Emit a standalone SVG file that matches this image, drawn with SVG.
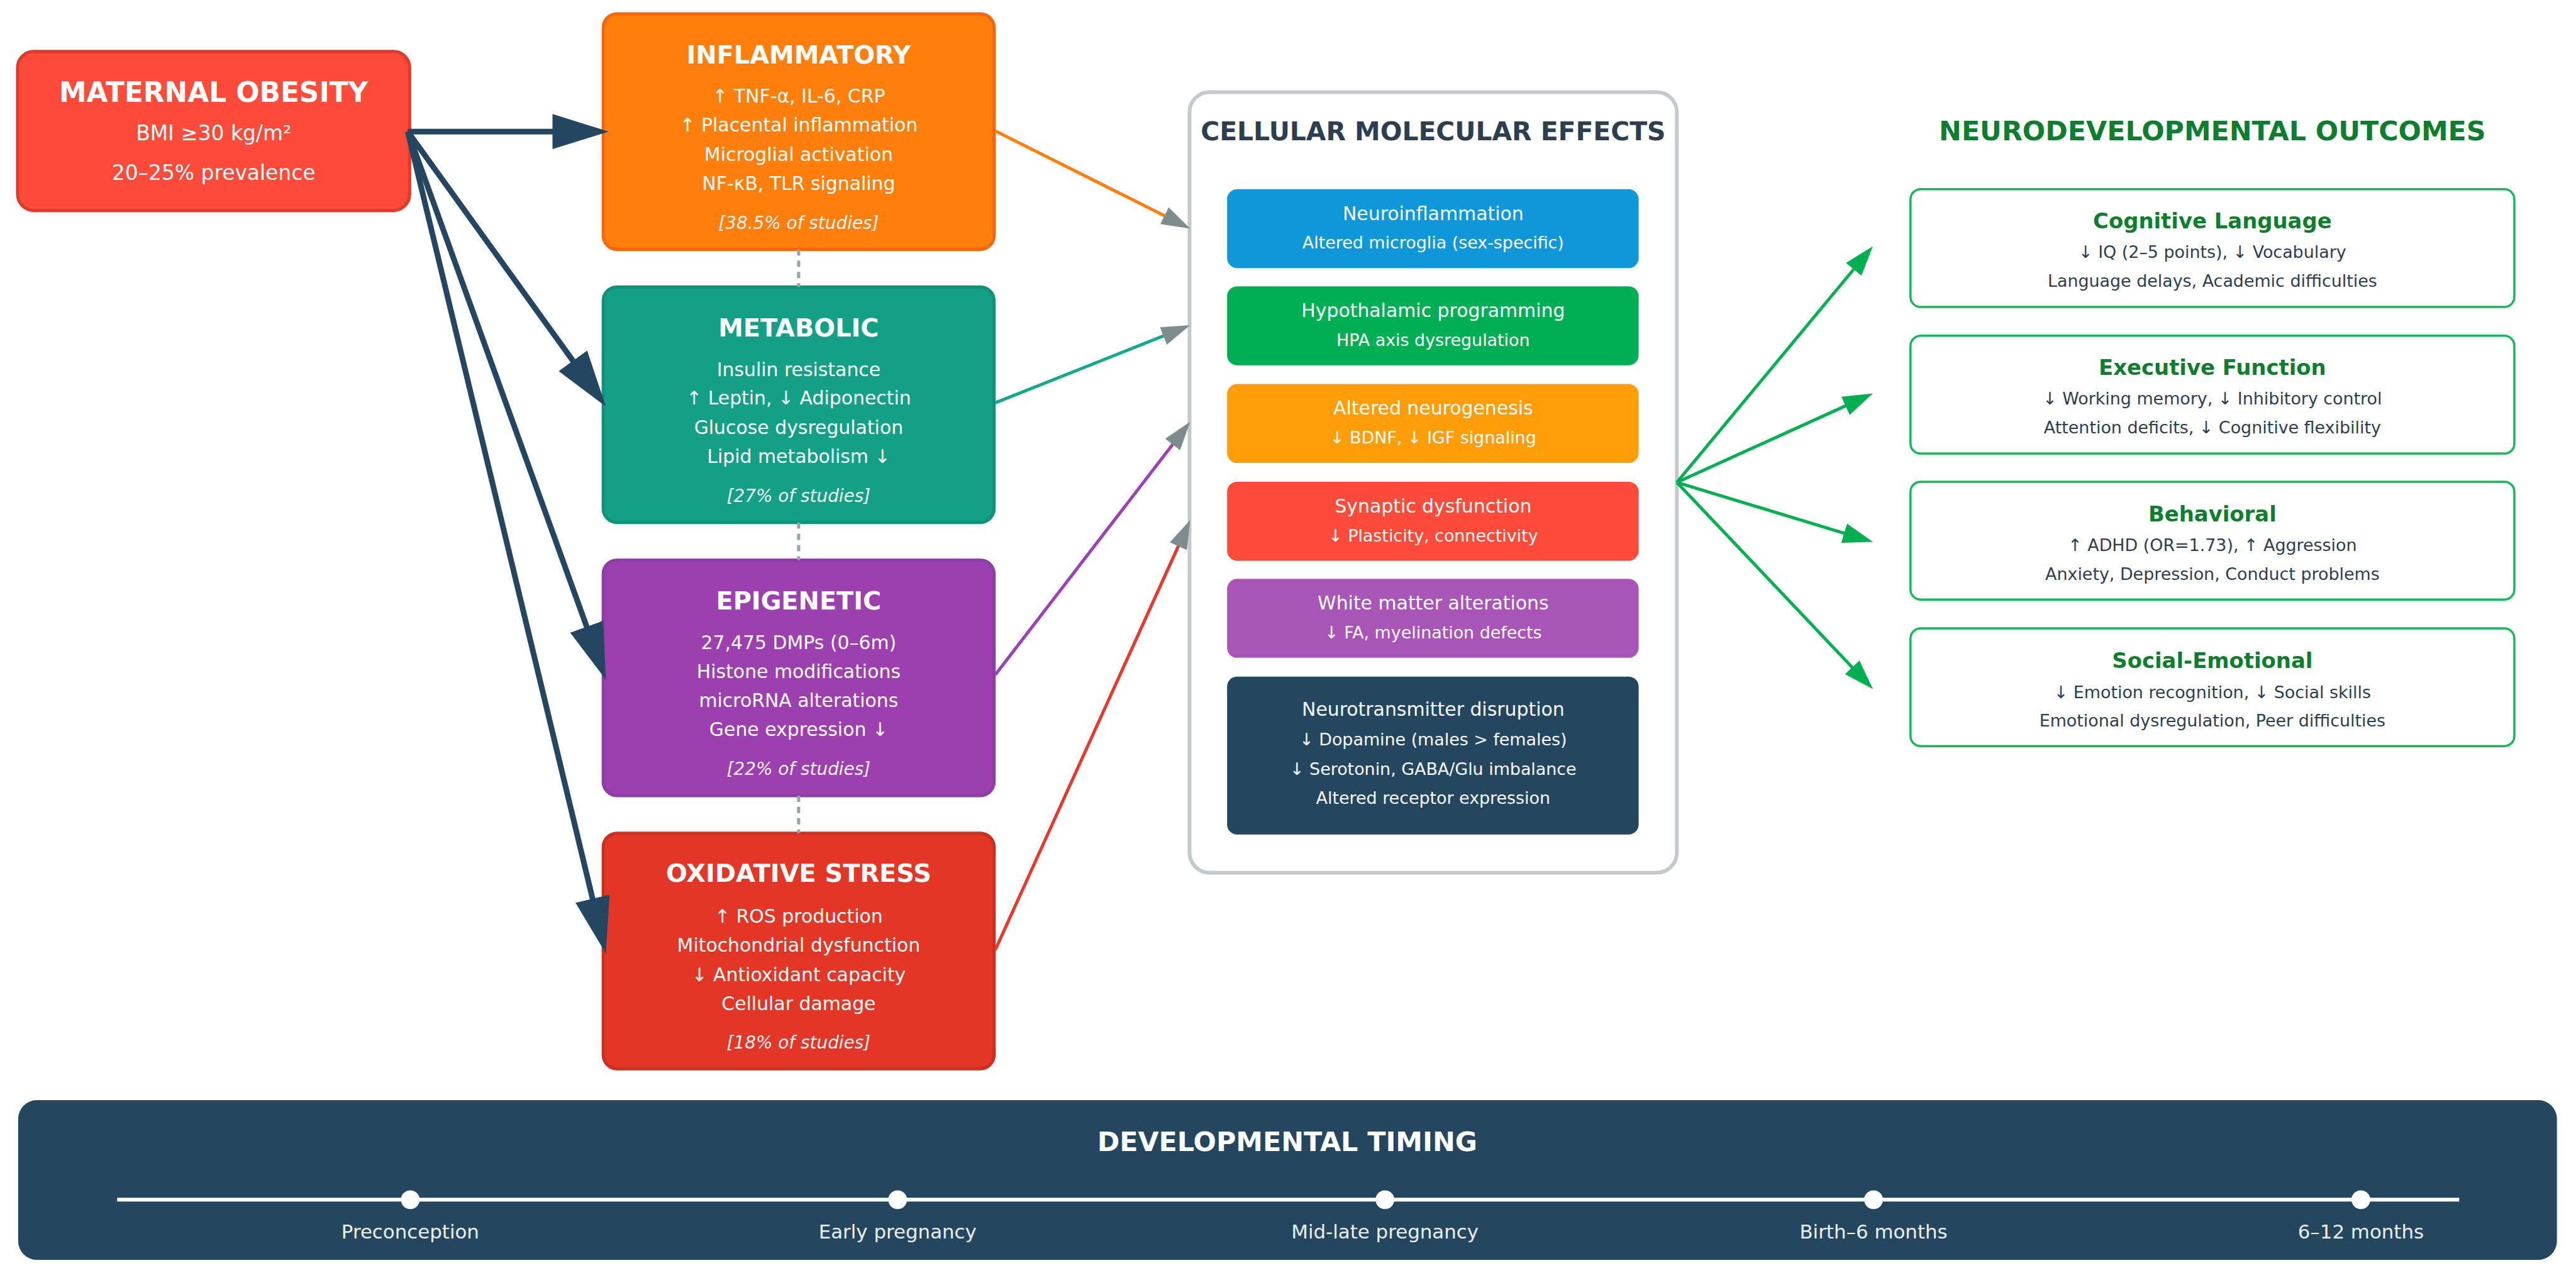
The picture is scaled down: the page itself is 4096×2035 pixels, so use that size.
<svg xmlns="http://www.w3.org/2000/svg" width="4096" height="2035" viewBox="0 0 4096 2035">
<defs>
<style>
text{font-family:"DejaVu Sans",Verdana,"Liberation Sans",sans-serif;text-anchor:middle}
.w{fill:#ffffff}
.tb{font-weight:bold;font-size:40px;fill:#ffffff}
.bd{font-size:30px;fill:#ffffff}
.it{font-size:28px;font-style:italic;fill:#f4f4f4}
.ct{font-size:30px;fill:#ffffff}
.cs{font-size:27px;fill:#ffffff}
.ot{font-weight:bold;font-size:34px;fill:#0e7d2e}
.ob{font-size:27px;fill:#2c3e50}
.ob2{fill:#ffffff;stroke:#14b856;stroke-width:3.5}
.tl{font-size:31px;fill:#ecf0f1}
.dot{fill:#ffffff}
.dash{stroke:#95a5a6;stroke-width:5;stroke-dasharray:10 8;fill:none}
.navy{stroke:#254660;stroke-width:9;fill:none}
.gc{stroke-width:5;fill:none}
.gr{stroke:#00b050;stroke-width:5;fill:none}
</style>
<marker id="mNavy" markerUnits="userSpaceOnUse" markerWidth="90" markerHeight="56" refX="20" refY="28" orient="auto" viewBox="0 0 90 56"><path d="M0,0 L90,28 L0,56 z" fill="#254660"/></marker>
<marker id="mGrey" markerUnits="userSpaceOnUse" markerWidth="46" markerHeight="30" refX="8" refY="15" orient="auto" viewBox="0 0 46 30"><path d="M0,0 L46,15 L0,30 z" fill="#7f8c8d"/></marker>
<marker id="mGreen" markerUnits="userSpaceOnUse" markerWidth="48" markerHeight="32" refX="10" refY="16" orient="auto" viewBox="0 0 48 32"><path d="M0,0 L48,16 L0,32 z" fill="#00b050"/></marker>
</defs>
<rect width="4096" height="2035" fill="#ffffff"/>
<g transform="scale(0.996)">

<g id="maternal">
<rect x="28" y="82" width="626" height="254" rx="26" fill="#ff4b3a" stroke="#e03a2b" stroke-width="5"/>
<text x="341" y="163" class="w" font-weight="bold" font-size="44">MATERNAL OBESITY</text>
<text x="341" y="224" class="w" font-size="33">BMI ≥30 kg/m²</text>
<text x="341" y="287" class="w" font-size="33">20–25% prevalence</text>
</g>

<g id="inflammatory">
<rect x="963" y="22" width="624" height="376" rx="22" fill="#ff7f0e" stroke="#f8650a" stroke-width="5"/>
<text x="1275" y="101" class="tb">INFLAMMATORY</text>
<text x="1275" y="164" class="bd">↑ TNF-α, IL-6, CRP</text>
<text x="1275" y="210" class="bd">↑ Placental inflammation</text>
<text x="1275" y="257" class="bd">Microglial activation</text>
<text x="1275" y="303" class="bd">NF-κB, TLR signaling</text>
<text x="1275" y="365" class="it">[38.5% of studies]</text>
</g>

<g id="metabolic">
<rect x="963" y="458" width="624" height="376" rx="22" fill="#13a085" stroke="#109279" stroke-width="5"/>
<text x="1275" y="537" class="tb">METABOLIC</text>
<text x="1275" y="600" class="bd">Insulin resistance</text>
<text x="1275" y="646" class="bd">↑ Leptin, ↓ Adiponectin</text>
<text x="1275" y="693" class="bd">Glucose dysregulation</text>
<text x="1275" y="739" class="bd">Lipid metabolism ↓</text>
<text x="1275" y="801" class="it">[27% of studies]</text>
</g>

<g id="epigenetic">
<rect x="963" y="894" width="624" height="376" rx="22" fill="#9b40ae" stroke="#8e3ca8" stroke-width="5"/>
<text x="1275" y="973" class="tb">EPIGENETIC</text>
<text x="1275" y="1036" class="bd">27,475 DMPs (0–6m)</text>
<text x="1275" y="1082" class="bd">Histone modifications</text>
<text x="1275" y="1129" class="bd">microRNA alterations</text>
<text x="1275" y="1175" class="bd">Gene expression ↓</text>
<text x="1275" y="1237" class="it">[22% of studies]</text>
</g>

<g id="oxidative">
<rect x="963" y="1330" width="624" height="376" rx="22" fill="#e23626" stroke="#cc2e1f" stroke-width="5"/>
<text x="1275" y="1408" class="tb">OXIDATIVE STRESS</text>
<text x="1275" y="1473" class="bd">↑ ROS production</text>
<text x="1275" y="1519" class="bd">Mitochondrial dysfunction</text>
<text x="1275" y="1566" class="bd">↓ Antioxidant capacity</text>
<text x="1275" y="1612" class="bd">Cellular damage</text>
<text x="1275" y="1674" class="it">[18% of studies]</text>
</g>

<g id="cellular">
<rect x="1899" y="147" width="778" height="1246" rx="32" fill="#ffffff" stroke="#c3c9cd" stroke-width="6"/>
<text x="2288" y="224" font-weight="bold" font-size="41" fill="#2c3e50">CELLULAR MOLECULAR EFFECTS</text>
</g>
<g id="neuroinflammation">
<rect x="1959" y="302" width="657" height="126" rx="16" fill="#0e98da"/>
<text x="2288" y="351" class="ct">Neuroinflammation</text>
<text x="2288" y="397" class="cs">Altered microglia (sex-specific)</text>
</g>
<g id="hypothalamic">
<rect x="1959" y="457" width="657" height="126" rx="16" fill="#00ae56"/>
<text x="2288" y="506" class="ct">Hypothalamic programming</text>
<text x="2288" y="552" class="cs">HPA axis dysregulation</text>
</g>
<g id="neurogenesis">
<rect x="1959" y="613" width="657" height="126" rx="16" fill="#ff9e0a"/>
<text x="2288" y="662" class="ct">Altered neurogenesis</text>
<text x="2288" y="708" class="cs">↓ BDNF, ↓ IGF signaling</text>
</g>
<g id="synaptic">
<rect x="1959" y="769" width="657" height="126" rx="16" fill="#ff4b3a"/>
<text x="2288" y="818" class="ct">Synaptic dysfunction</text>
<text x="2288" y="864" class="cs">↓ Plasticity, connectivity</text>
</g>
<g id="whitematter">
<rect x="1959" y="924" width="657" height="126" rx="16" fill="#a955b8"/>
<text x="2288" y="973" class="ct">White matter alterations</text>
<text x="2288" y="1019" class="cs">↓ FA, myelination defects</text>
</g>
<g id="neurotransmitter">
<rect x="1959" y="1080" width="657" height="252" rx="16" fill="#24465e"/>
<text x="2288" y="1143" class="ct">Neurotransmitter disruption</text>
<text x="2288" y="1190" class="cs">↓ Dopamine (males &gt; females)</text>
<text x="2288" y="1237" class="cs">↓ Serotonin, GABA/Glu imbalance</text>
<text x="2288" y="1283" class="cs">Altered receptor expression</text>
</g>

<g id="outcomes-title">
<text x="3532" y="224" font-weight="bold" font-size="43" fill="#0e7d2e">NEURODEVELOPMENTAL OUTCOMES</text>
</g>
<g id="cognitive">
<rect x="3050" y="302" width="964" height="188" rx="16" class="ob2"/>
<text x="3532" y="364" class="ot">Cognitive Language</text>
<text x="3532" y="412" class="ob">↓ IQ (2–5 points), ↓ Vocabulary</text>
<text x="3532" y="458" class="ob">Language delays, Academic difficulties</text>
</g>
<g id="executive">
<rect x="3050" y="536" width="964" height="188" rx="16" class="ob2"/>
<text x="3532" y="598" class="ot">Executive Function</text>
<text x="3532" y="646" class="ob">↓ Working memory, ↓ Inhibitory control</text>
<text x="3532" y="692" class="ob">Attention deficits, ↓ Cognitive flexibility</text>
</g>
<g id="behavioral">
<rect x="3050" y="769" width="964" height="188" rx="16" class="ob2"/>
<text x="3532" y="832" class="ot">Behavioral</text>
<text x="3532" y="880" class="ob">↑ ADHD (OR=1.73), ↑ Aggression</text>
<text x="3532" y="926" class="ob">Anxiety, Depression, Conduct problems</text>
</g>
<g id="social">
<rect x="3050" y="1003" width="964" height="188" rx="16" class="ob2"/>
<text x="3532" y="1066" class="ot">Social-Emotional</text>
<text x="3532" y="1114" class="ob">↓ Emotion recognition, ↓ Social skills</text>
<text x="3532" y="1160" class="ob">Emotional dysregulation, Peer difficulties</text>
</g>

<g id="timing">
<rect x="29" y="1756" width="4053" height="255" rx="30" fill="#24465e"/>
<text x="2055" y="1837" class="w" font-weight="bold" font-size="43">DEVELOPMENTAL TIMING</text>
<line x1="187" y1="1915" x2="3926" y2="1915" stroke="#ffffff" stroke-width="6"/>
<circle cx="655" cy="1915" r="15" class="dot"/>
<circle cx="1433" cy="1915" r="15" class="dot"/>
<circle cx="2211" cy="1915" r="15" class="dot"/>
<circle cx="2991" cy="1915" r="15" class="dot"/>
<circle cx="3769" cy="1915" r="15" class="dot"/>
<text x="655" y="1977" class="tl">Preconception</text>
<text x="1433" y="1977" class="tl">Early pregnancy</text>
<text x="2211" y="1977" class="tl">Mid-late pregnancy</text>
<text x="2991" y="1977" class="tl">Birth–6 months</text>
<text x="3769" y="1977" class="tl">6–12 months</text>
</g>

<g id="connectors">
<line x1="1275" y1="398" x2="1275" y2="458" class="dash"/>
<line x1="1275" y1="834" x2="1275" y2="894" class="dash"/>
<line x1="1275" y1="1270" x2="1275" y2="1330" class="dash"/>
<line x1="651" y1="210" x2="902" y2="210" class="navy" marker-end="url(#mNavy)"/>
<line x1="651" y1="210" x2="926.3" y2="592.1" class="navy" marker-end="url(#mNavy)"/>
<line x1="651" y1="210" x2="943.4" y2="1019.1" class="navy" marker-end="url(#mNavy)"/>
<line x1="651" y1="210" x2="950.7" y2="1453.9" class="navy" marker-end="url(#mNavy)"/>
<line x1="1589" y1="209" x2="1866.1" y2="347.9" class="gc" stroke="#ff7f0e" marker-end="url(#mGrey)"/>
<line x1="1589" y1="643" x2="1864.7" y2="533.2" class="gc" stroke="#13a98c" marker-end="url(#mGrey)"/>
<line x1="1589" y1="1077" x2="1876.9" y2="703.2" class="gc" stroke="#9b40b8" marker-end="url(#mGrey)"/>
<line x1="1589" y1="1516" x2="1884.4" y2="864.6" class="gc" stroke="#e8382a" marker-end="url(#mGrey)"/>
<line x1="2677" y1="770" x2="2965.7" y2="422.2" class="gr" marker-end="url(#mGreen)"/>
<line x1="2677" y1="770" x2="2955.4" y2="643.7" class="gr" marker-end="url(#mGreen)"/>
<line x1="2677" y1="770" x2="2953.6" y2="854" class="gr" marker-end="url(#mGreen)"/>
<line x1="2677" y1="770" x2="2963.8" y2="1072.4" class="gr" marker-end="url(#mGreen)"/>
</g>
</g>
</svg>
